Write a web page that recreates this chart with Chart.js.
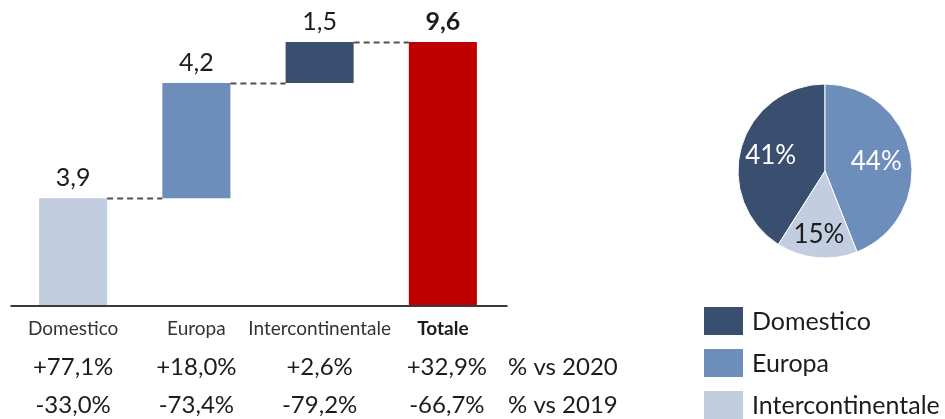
<!DOCTYPE html>
<html>
<head>
<meta charset="utf-8">
<script src="https://cdn.jsdelivr.net/npm/chart.js@4/dist/chart.umd.min.js"></script>
<style>
  html, body { margin: 0; padding: 0; background: #ffffff; width: 945px; height: 419px; overflow: hidden; }
  canvas { position: absolute; top: 0; }
  #bar { left: 0; }
  #pie { left: 700px; }
</style>
</head>
<body>
<canvas id="bar" width="700" height="419"></canvas>
<canvas id="pie" width="245" height="419"></canvas>
<script>
// Passenger volumes by segment (millions) and the resulting total
const categories = ['Domestico', 'Europa', 'Intercontinentale', 'Totale'];
const segmentValues = [3.9, 4.2, 1.5];
const totalValue = 9.6;

// Year-over-year changes shown under each column
const changeVs2020 = ['+77,1%', '+18,0%', '+2,6%', '+32,9%'];
const changeVs2019 = ['-33,0%', '-73,4%', '-79,2%', '-66,7%'];
const rowTitles = ['% vs 2020', '% vs 2019'];

// Share of total by segment
const shareLabels = ['Domestico', 'Europa', 'Intercontinentale'];
const shareValues = [41, 44, 15];

const FONT = 'Lato, "Open Sans", sans-serif';
const DARK = '#3a4e70';
const MID = '#6d8dbb';
const LIGHT = '#c2cde0';
const RED = '#c00000';
const TEXT = '#1c1c1c';

// Floating ranges for the waterfall: each segment starts where the previous ended
const ranges = [];
let running = 0;
segmentValues.forEach(v => { ranges.push([running, running + v]); running += v; });
ranges.push([0, totalValue]);
const barLabels = [...segmentValues, totalValue].map(v => v.toFixed(1).replace('.', ','));

const waterfallDecor = {
  id: 'waterfallDecor',
  afterDatasetsDraw(chart) {
    const { ctx, chartArea, scales: { x, y } } = chart;
    const bars = chart.getDatasetMeta(0).data;
    const base = y.getPixelForValue(0);

    ctx.save();
    // dashed connectors between consecutive columns
    ctx.strokeStyle = '#505050';
    ctx.lineWidth = 2;
    ctx.setLineDash([6, 4]);
    for (let i = 0; i < bars.length - 1; i++) {
      const level = Math.round(y.getPixelForValue(ranges[i][1])) + 0.5;
      ctx.beginPath();
      ctx.moveTo(bars[i].x + bars[i].width / 2, level);
      ctx.lineTo(bars[i + 1].x - bars[i + 1].width / 2, level);
      ctx.stroke();
    }
    ctx.setLineDash([]);

    // category axis line
    ctx.strokeStyle = '#3a3a3a';
    ctx.lineWidth = 2;
    ctx.beginPath();
    ctx.moveTo(chartArea.left - 1, base + 1);
    ctx.lineTo(chartArea.right + 3, base + 1);
    ctx.stroke();

    // value labels above each column
    ctx.fillStyle = TEXT;
    ctx.textAlign = 'center';
    ctx.textBaseline = 'middle';
    bars.forEach((bar, i) => {
      const isTotal = i === bars.length - 1;
      ctx.font = (isTotal ? 'bold ' : '') + '25px ' + FONT;
      ctx.fillText(barLabels[i], bar.x, y.getPixelForValue(ranges[i][1]) - 20);
    });

    // category names under the axis
    categories.forEach((name, i) => {
      const isTotal = i === categories.length - 1;
      ctx.font = (isTotal ? 'bold ' : '') + '19px ' + FONT;
      ctx.fillStyle = isTotal ? TEXT : '#333333';
      ctx.fillText(name, x.getPixelForValue(i), base + 24);
    });

    // change rows
    ctx.fillStyle = TEXT;
    ctx.font = '24px ' + FONT;
    [changeVs2020, changeVs2019].forEach((row, r) => {
      const rowY = base + 62 + r * 38;
      ctx.textAlign = 'center';
      row.forEach((txt, i) => ctx.fillText(txt, x.getPixelForValue(i) + (i === 3 ? 4 : 0), rowY));
      ctx.textAlign = 'left';
      ctx.fillText(rowTitles[r], 508, rowY);
    });
    ctx.restore();
  }
};

new Chart(document.getElementById('bar'), {
  type: 'bar',
  data: {
    labels: categories,
    datasets: [{
      data: ranges,
      backgroundColor: [LIGHT, MID, DARK, RED],
      borderWidth: 0,
      borderSkipped: false,
      categoryPercentage: 1,
      barPercentage: 0.552
    }]
  },
  options: {
    responsive: false,
    animation: false,
    layout: { padding: { left: 11.5, right: 195.5, top: 42, bottom: 114 } },
    plugins: { legend: { display: false }, tooltip: { enabled: false } },
    scales: {
      x: { display: false },
      y: { display: false, min: 0, max: totalValue }
    }
  },
  plugins: [waterfallDecor]
});

// label distance from the centre, as a fraction of the radius, per slice
const labelRadius = [0.65, 0.6, 0.74];
const labelColor = ['#ffffff', '#ffffff', TEXT];

const pieDecor = {
  id: 'pieDecor',
  afterDatasetsDraw(chart) {
    const { ctx } = chart;
    const arcs = chart.getDatasetMeta(0).data;
    ctx.save();
    ctx.font = '26px ' + FONT;
    ctx.textAlign = 'center';
    ctx.textBaseline = 'middle';
    arcs.forEach((arc, i) => {
      const mid = (arc.startAngle + arc.endAngle) / 2;
      const r = arc.outerRadius * labelRadius[i];
      ctx.fillStyle = labelColor[i];
      ctx.fillText(shareValues[i] + '%', arc.x + Math.cos(mid) * r, arc.y + Math.sin(mid) * r);
    });

    // legend: one swatch per row, below the pie
    const colors = chart.data.datasets[0].backgroundColor;
    ctx.font = '25px ' + FONT;
    ctx.textAlign = 'left';
    chart.data.labels.forEach((name, i) => {
      const cy = 321 + i * 42;
      ctx.fillStyle = colors[i];
      ctx.fillRect(4, cy - 14, 39, 28);
      ctx.fillStyle = TEXT;
      ctx.fillText(name, 52, cy + 1);
    });
    ctx.restore();
  }
};

const shareTotal = shareValues.reduce((a, b) => a + b, 0);
new Chart(document.getElementById('pie'), {
  type: 'pie',
  data: {
    labels: shareLabels,
    datasets: [{
      data: shareValues,
      backgroundColor: [DARK, MID, LIGHT],
      borderColor: '#ffffff',
      borderWidth: 1
    }]
  },
  options: {
    responsive: false,
    animation: false,
    rotation: -shareValues[0] / shareTotal * 360,
    layout: { padding: { left: 37.5, right: 32.5, top: 83.5, bottom: 160.5 } },
    plugins: { legend: { display: false }, tooltip: { enabled: false } }
  },
  plugins: [pieDecor]
});
</script>
</body>
</html>
